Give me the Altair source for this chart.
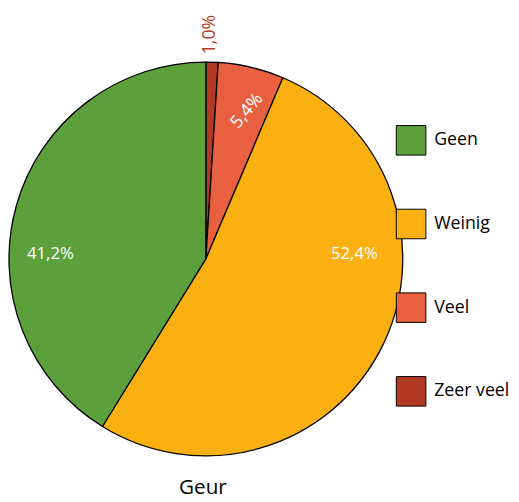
import altair as alt
import pandas as pd

categories = ["Zeer veel", "Veel", "Weinig", "Geen"]
values = [1.0, 5.4, 52.4, 41.2]
labels = ["1,0%", "5,4%", "52,4%", "41,2%"]
legend_order = ["Geen", "Weinig", "Veel", "Zeer veel"]
colors = ["#5BA03B", "#F9B010", "#E8603F", "#B23A24"]

df = pd.DataFrame({"cat": categories, "val": values, "label": labels, "ord": [0, 1, 2, 3]})

FONT = "Open Sans"
CX, CY, R = 201, 251, 200

base = alt.Chart(df)

pie = base.mark_arc(stroke="black", strokeWidth=1.3, radius=R).encode(
    theta=alt.Theta("val:Q", stack=True),
    order=alt.Order("ord:Q"),
    color=alt.Color(
        "cat:N",
        scale=alt.Scale(domain=legend_order, range=colors),
        legend=alt.Legend(
            title=None,
            orient="none",
            legendX=394,
            legendY=115,
            symbolType="square",
            symbolSize=900,
            symbolStrokeColor="black",
            symbolStrokeWidth=1,
            rowPadding=50,
            labelFont=FONT,
            labelFontSize=18,
            labelColor="black",
            labelOffset=8,
            labelLimit=200,
        ),
    ),
    x=alt.value(CX),
    y=alt.value(CY),
)

# label placements (theta in radians, radius in px)
place = {
    "1,0%": dict(theta=0.018, radius=228, angle=270, color="#B23A24", size=18),
    "5,4%": dict(theta=0.272, radius=156, angle=310, color="white", size=18),
    "52,4%": dict(theta=1.538, radius=151, angle=0, color="white", size=17),
    "41,2%": dict(theta=4.744, radius=158, angle=0, color="white", size=17),
}

layers = [pie]
for lab in labels:
    p = place[lab]
    layers.append(
        base.transform_filter(alt.datum.label == lab)
        .mark_text(
            theta=p["theta"],
            radius=p["radius"],
            angle=p["angle"],
            color=p["color"],
            font=FONT,
            fontSize=p["size"],
            align="center",
            baseline="middle",
        )
        .encode(text="label:N", x=alt.value(CX), y=alt.value(CY))
    )

chart = (
    alt.layer(*layers)
    .properties(
        width=396,
        height=458,
        autosize=alt.AutoSizeParams(type="none"),
        padding={"left": 0, "top": 0, "right": 115, "bottom": 36},
        title=alt.TitleParams(
            "Geur", orient="bottom", anchor="middle", font=FONT, fontSize=21,
            fontWeight="normal", color="black", offset=15,
        ),
    )
    .configure_view(stroke=None)
)

chart.save("out.html", embed_options={"renderer": "svg", "actions": False})
